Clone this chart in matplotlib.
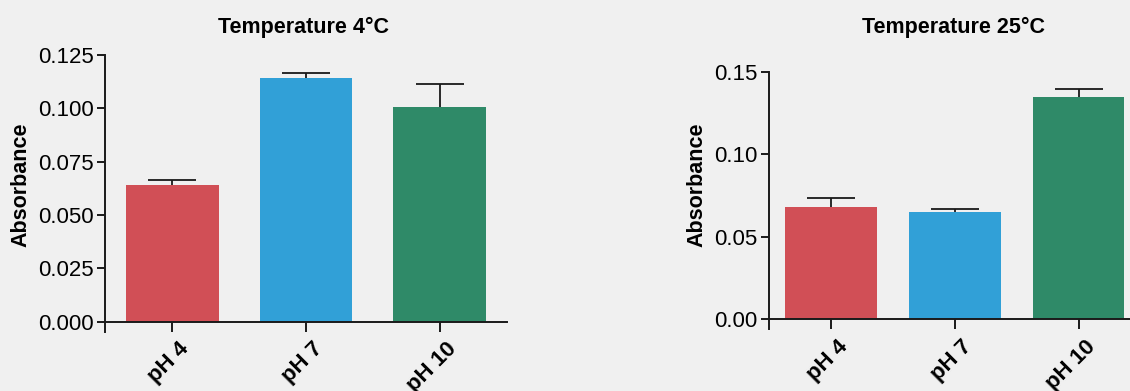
import matplotlib
matplotlib.use("Agg")
import matplotlib.pyplot as plt
import matplotlib.transforms as mtransforms
import numpy as np

plt.rcParams['font.family'] = ['Liberation Sans', 'DejaVu Sans']

categories = ["pH 4", "pH 7", "pH 10"]
colors = ["#d14f56", "#31a0d7", "#2f8a68"]

title_4c = "Temperature 4°C"
means_4c = [0.0641, 0.1142, 0.1006]
err_4c = [0.0023, 0.0025, 0.0108]
yticks_4c = [0.0, 0.025, 0.05, 0.075, 0.1, 0.125]
yticklabels_4c = ["0.000", "0.025", "0.050", "0.075", "0.100", "0.125"]

title_25c = "Temperature 25°C"
means_25c = [0.0680, 0.0650, 0.1346]
err_25c = [0.0053, 0.0016, 0.0051]
yticks_25c = [0.0, 0.05, 0.10, 0.15]
yticklabels_25c = ["0.00", "0.05", "0.10", "0.15"]

W, H = 1130, 391
fig = plt.figure(figsize=(W / 100, H / 100), dpi=100)
bg = "#f0f0f0"
fig.patch.set_facecolor(bg)


def px_axes(x0, x1, ytop, ybot):
    return fig.add_axes([x0 / W, (H - ybot) / H, (x1 - x0) / W, (ybot - ytop) / H])


def draw(ax, means, errs, width, yticks, yticklabels, ymin, ymax):
    x = np.arange(len(categories))
    ax.set_facecolor("none")
    ax.bar(x, means, width=width, color=colors, zorder=2)
    _, caps, _ = ax.errorbar(x, means, yerr=[np.zeros(len(errs)), errs], fmt="none",
                             ecolor="#1a1a1a", elinewidth=1.3, capsize=17,
                             capthick=1.3, zorder=1)
    if len(caps) == 2:
        caps[0].set_visible(False)
    ax.set_xlim(-0.505, 2.505)
    ax.set_ylim(ymin, ymax)
    for s in ["top", "right"]:
        ax.spines[s].set_visible(False)
    ax.spines["bottom"].set_position(("data", 0))
    ax.spines["left"].set_bounds(ymin, ymax)
    for s in ["left", "bottom"]:
        ax.spines[s].set_linewidth(1.4)
        ax.spines[s].set_color("#1a1a1a")
    ax.set_yticks(yticks)
    ax.set_yticklabels(yticklabels, fontsize=16)
    ax.set_xticks(x)
    ax.set_xticklabels(categories, fontsize=16, fontweight="bold", rotation=45,
                       ha="right", rotation_mode="anchor")
    ax.tick_params(axis="y", length=6, width=1.4, pad=2, colors="#1a1a1a")
    ax.tick_params(axis="x", length=7, width=1.4, pad=5, colors="#1a1a1a")
    offset = mtransforms.ScaledTranslation(6 / 100, 0, fig.dpi_scale_trans)
    for lbl in ax.xaxis.get_majorticklabels():
        lbl.set_transform(lbl.get_transform() + offset)
    for lbl in ax.get_xticklabels() + ax.get_yticklabels():
        lbl.set_color("black")


ax1 = px_axes(105, 507, 55, 331.7)
draw(ax1, means_4c, err_4c, 0.69, yticks_4c, yticklabels_4c, -0.0047, 0.125)

ax2 = px_axes(768.7, 1141, 71.7, 329.3)
draw(ax2, means_25c, err_25c, 0.743, yticks_25c, yticklabels_25c, -0.006, 0.15)

ty = (H - 33.3) / H
fig.text(303 / W, ty, title_4c, ha="center", va="baseline", fontsize=15.5, fontweight="bold")
fig.text(953 / W, ty, title_25c, ha="center", va="baseline", fontsize=15.5, fontweight="bold")

fig.text(21 / W, (H - 185) / H, "Absorbance", rotation=90, ha="center", va="center",
         fontsize=15.5, fontweight="bold")
fig.text(696.7 / W, (H - 185) / H, "Absorbance", rotation=90, ha="center", va="center",
         fontsize=15.5, fontweight="bold")

fig.savefig("out.png", dpi=100, facecolor=bg)
